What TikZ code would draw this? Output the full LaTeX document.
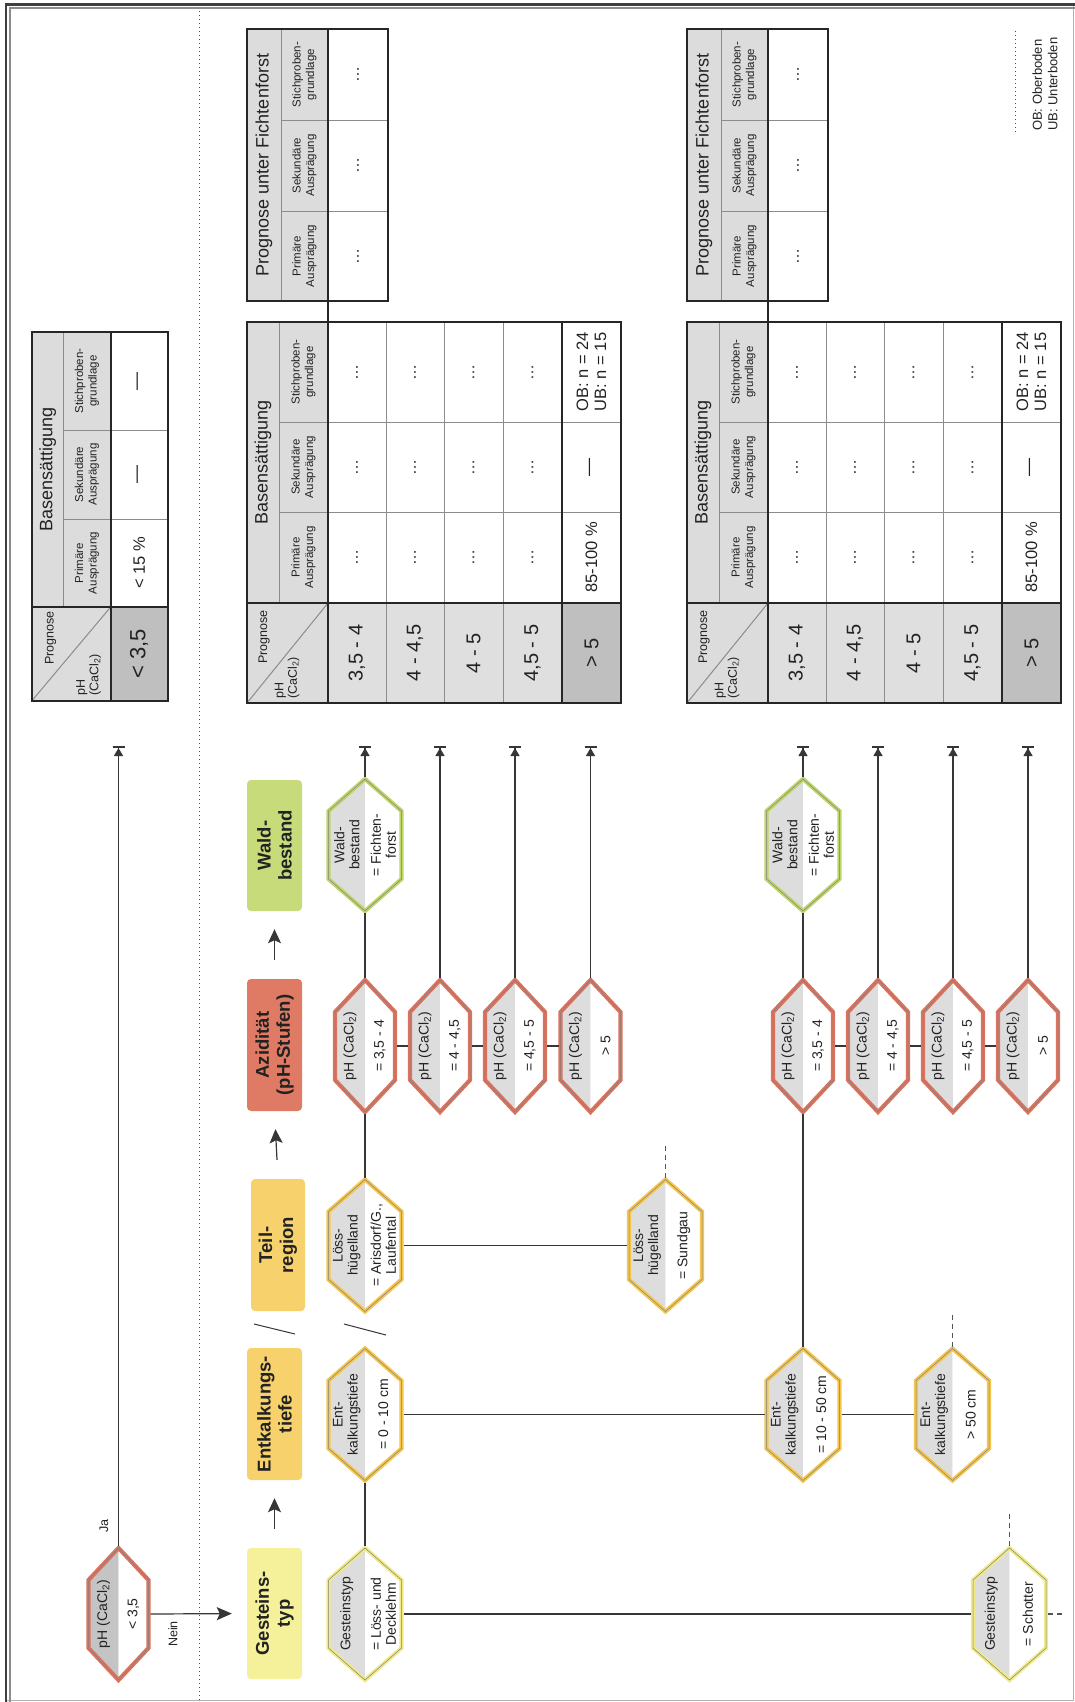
\documentclass[tikz,border=0pt]{standalone}
\usepackage{fontspec}
\setmainfont{Liberation Sans}
\usetikzlibrary{arrows.meta}
\definecolor{linec}{HTML}{363636}
\definecolor{hexgray}{HTML}{DDDDDD}
\definecolor{hexgraydk}{HTML}{C4C4C4}
\definecolor{ylight}{HTML}{F5F09A}
\definecolor{ylightb}{HTML}{F0EA8A}
\definecolor{gold}{HTML}{F6D16C}
\definecolor{goldb}{HTML}{F4C650}
\definecolor{redf}{HTML}{DF7A64}
\definecolor{redb}{HTML}{DC735E}
\definecolor{greenf}{HTML}{C7DB7A}
\definecolor{greenb}{HTML}{BDD56A}
\definecolor{hdrgray}{HTML}{DCDCDC}
\definecolor{phgray}{HTML}{DFDFDF}
\definecolor{phdark}{HTML}{BFBFBF}
\definecolor{txt}{HTML}{222222}

\tikzset{
  conn/.style={draw=linec, line width=1.2pt},
  tarrow/.style={conn, -{Triangle[length=8pt,width=9pt]Bar[width=12pt,line width=2pt]}},
  catarrow/.style={conn, -{Stealth[length=14pt,width=13pt,inset=3pt]}, shorten <=19pt, shorten >=18pt},
  neinarrow/.style={conn, -{Stealth[length=15pt,width=13pt,inset=3pt]}, shorten >=15pt},
  dashc/.style={draw=linec!85, line width=1.2pt, dash pattern=on 5pt off 4pt},
  hexbox/.style={inner sep=0pt, outer sep=0pt, minimum height=136pt},
  hexin/.style={draw=black!50, line width=0.5pt, line join=miter},
  hext/.style={rotate=90, font=\fontsize{14}{15}\selectfont, align=center, inner sep=0pt, text=txt},
  catbox/.style={rounded corners=4pt, inner sep=0pt, minimum width=55pt},
  catt/.style={rotate=90, font=\bfseries\fontsize{18.5}{21}\selectfont, align=center, inner sep=0pt, text=txt},
  lbl/.style={rotate=90, font=\fontsize{12.5}{14}\selectfont, inner sep=0pt, text=txt},
  thdr/.style={rotate=90, font=\fontsize{18}{20}\selectfont, inner sep=0pt, text=txt},
  tsub/.style={rotate=90, font=\fontsize{11.5}{13.5}\selectfont, align=center, inner sep=0pt, text=txt},
  tval/.style={rotate=90, font=\fontsize{20}{22}\selectfont, inner sep=0pt, text=txt},
  tdat/.style={rotate=90, font=\fontsize{16.5}{18}\selectfont, align=center, inner sep=0pt, text=txt},
  tdots/.style={rotate=90, font=\fontsize{16}{16}\selectfont, inner sep=0pt, text=txt},
  tsmall/.style={rotate=90, font=\fontsize{12.5}{13.5}\selectfont, align=left, inner sep=0pt, text=txt},
  tthin/.style={draw=black!45, line width=1pt},
  tthick/.style={draw=black!85, line width=2.2pt},
}

% hexagon: #1 name, #2 centre, #3 half width, #4 border colour, #5 gray colour, #6 left text, #7 right text
\newcommand{\hexa}[7]{%
  \node[hexbox, minimum width={2*#3+4}] (#1) at #2 {};
  \begin{scope}[shift={(#1.center)}]
    \fill[#5] (0,-66) -- (-#3,-34) -- (-#3,34) -- (0,66) -- cycle;
    \fill[white] (0,-66) -- (#3,-34) -- (#3,34) -- (0,66) -- cycle;
    \draw[#4, line width=4.2pt, line join=miter] (0,-66) -- (-#3,-34) -- (-#3,34) -- (0,66) -- (#3,34) -- (#3,-34) -- cycle;
    \draw[hexin] (0,-66) -- (-#3,-34) -- (-#3,34) -- (0,66) -- (#3,34) -- (#3,-34) -- cycle;
  \end{scope}
  \node[hext] (#1-l) at ([xshift={-0.5*#3}]#1.center) {#6};
  \node[hext] (#1-r) at ([xshift={0.5*#3}]#1.center) {#7};
}

% main table: #1 prefix, #2 x offset
\newcommand{\maintab}[2]{%
\begin{scope}[shift={(#2,0)}]
  \fill[hdrgray] (0,322) rectangle (81,703);
  \fill[phgray] (81,603) rectangle (315,703);
  \fill[phdark] (315,603) rectangle (374,703);
  \draw[tthin] (32,322) -- (32,603);
  \draw[tthin] (32,422) -- (374,422);
  \draw[tthin] (32,512) -- (374,512);
  \draw[tthin] (139,322) -- (139,703);
  \draw[tthin] (197,322) -- (197,703);
  \draw[tthin] (256,322) -- (256,703);
  \draw[tthin] (0,703) -- (81,603);
  \draw[tthick] (315,322) -- (315,703);
  \draw[tthick] (81,322) -- (81,703);
  \draw[tthick] (0,603) -- (374,603);
  \draw[tthick] (0,322) rectangle (374,703);
  \node[thdr] (#1-bs) at (16,462.5) {Basensättigung};
  \node[tsub] (#1-s1) at (56.5,557.5) {Primäre\\Ausprägung};
  \node[tsub] (#1-s2) at (56.5,467) {Sekundäre\\Ausprägung};
  \node[tsub] (#1-s3) at (56.5,372) {Stichproben-\\grundlage};
  \node[tsmall] (#1-pg) at (17,637) {Prognose};
  \node[tsmall, anchor=west] (#1-ph) at (40,699) {pH\\(CaCl\textsubscript{2})};
  \node[tval] (#1-v1) at (110,653) {3,5 - 4};
  \node[tval] (#1-v2) at (168,653) {4 - 4,5};
  \node[tval] (#1-v3) at (226.5,653) {4 - 5};
  \node[tval] (#1-v4) at (285.5,653) {4,5 - 5};
  \node[tval] (#1-v5) at (344.5,653) {> 5};
  \foreach \xx/\nn in {110/a,168/b,226.5/c,285.5/d}{
    \node[tdots] (#1-d\nn1) at (\xx,557.5) {…};
    \node[tdots] (#1-d\nn2) at (\xx,467) {…};
    \node[tdots] (#1-d\nn3) at (\xx,372) {…};
  }
  \node[tdat] (#1-e1) at (344.5,557.5) {85-100 \%};
  \node[tdat, font=\fontsize{18}{18}\selectfont] (#1-e2) at (344.5,467) {—};
  \node[tdat] (#1-e3) at (344.5,372) {OB: n = 24\\UB: n = 15};
\end{scope}}

% prognosis table: #1 prefix, #2 x offset
\newcommand{\progtab}[2]{%
\begin{scope}[shift={(#2,0)}]
  \fill[hdrgray] (0,29) rectangle (81,301);
  \draw[tthin] (34,29) -- (34,301);
  \draw[tthin] (34,120) -- (141,120);
  \draw[tthin] (34,211) -- (141,211);
  \draw[tthick] (81,29) -- (81,301);
  \draw[tthick] (0,29) rectangle (141,301);
  \coordinate (#1-a) at (81,301);
  \coordinate (#1-b) at (81,322);
  \draw[tthick] (#1-a) -- (#1-b);
  \node[thdr] (#1-t) at (17,165) {Prognose unter Fichtenforst};
  \node[tsub] (#1-s1) at (57.5,256) {Primäre\\Ausprägung};
  \node[tsub] (#1-s2) at (57.5,165.5) {Sekundäre\\Ausprägung};
  \node[tsub] (#1-s3) at (57.5,74.5) {Stichproben-\\grundlage};
  \node[tdots] (#1-d1) at (111,256) {…};
  \node[tdots] (#1-d2) at (111,165.5) {…};
  \node[tdots] (#1-d3) at (111,74.5) {…};
\end{scope}}

\begin{document}
\begin{tikzpicture}[x=1pt,y=-1pt]
\useasboundingbox (0,0) rectangle (1075,1702);
\fill[white] (0,0) rectangle (1075,1702);
% frame
\draw[black!30, line width=1pt] (6,1700.5) -- (1073.5,1700.5) -- (1073.5,5);
\draw[black!45, line width=2pt] (9.5,1702) -- (9.5,8.5) -- (1075,8.5);
\draw[black!75, line width=2.2pt] (6,1702) -- (6,4.5) -- (1075,4.5);
% dotted separator
\draw[black!70, line width=1pt, dash pattern=on 1pt off 3pt] (199,11) -- (199,1700);

% ---------- small table ----------
\begin{scope}[shift={(31.7,0)}]
  \fill[hdrgray] (0,332) rectangle (79,701);
  \fill[phdark] (79,607) rectangle (136,701);
  \draw[tthin] (31.6,332) -- (31.6,607);
  \draw[tthin] (31.6,430) -- (136,430);
  \draw[tthin] (31.6,519) -- (136,519);
  \draw[tthin] (0,701) -- (79,607);
  \draw[tthick] (79,332) -- (79,701);
  \draw[tthick] (0,607) -- (136,607);
  \draw[tthick] (0,332) rectangle (136,701);
  \node[thdr] (st-bs) at (16,469.5) {Basensättigung};
  \node[tsub] (st-s1) at (55.3,563) {Primäre\\Ausprägung};
  \node[tsub] (st-s2) at (55.3,474.5) {Sekundäre\\Ausprägung};
  \node[tsub] (st-s3) at (55.3,381) {Stichproben-\\grundlage};
  \node[tsmall] (st-pg) at (19,638) {Prognose};
  \node[tsmall, anchor=west] (st-ph) at (57,696) {pH\\(CaCl\textsubscript{2})};
  \node[tval, font=\fontsize{22}{24}\selectfont] (st-v) at (107.5,654) {< 3,5};
  \node[tdat] (st-e1) at (107.5,563) {< 15 \%};
  \node[tdat, font=\fontsize{18}{18}\selectfont] (st-e2) at (107.5,474.5) {—};
  \node[tdat, font=\fontsize{18}{18}\selectfont] (st-e3) at (107.5,381) {—};
\end{scope}

% ---------- main tables ----------
\progtab{pa}{247}
\maintab{ma}{247}
\progtab{pb}{687}
\maintab{mb}{687}

% legend
\draw[black!70, line width=1pt, dash pattern=on 1pt off 3pt] (1015,31) -- (1015,134);
\node[rotate=90, anchor=west, align=left, font=\fontsize{13}{15.5}\selectfont, inner sep=0pt, text=txt] (legend) at (1045,131) {OB: Oberboden\\UB: Unterboden};

% ---------- category boxes ----------
\node[catbox, fill=ylight, minimum height=131pt] (bGest) at (274.5,1613.5) {};
\node[catt] (bGest-t) at (bGest) {Gesteins-\\typ};
\node[catbox, fill=gold, minimum height=132pt] (bEnt) at (274.5,1414) {};
\node[catt] (bEnt-t) at (bEnt) {Entkalkungs-\\tiefe};
\node[catbox, fill=gold, minimum height=132pt, minimum width=54pt] (bTeil) at (278,1245) {};
\node[catt] (bTeil-t) at (bTeil) {Teil-\\region};
\node[catbox, fill=redf, minimum height=132pt] (bAzi) at (274.5,1045) {};
\node[catt] (bAzi-t) at (bAzi) {Azidität\\(pH-Stufen)};
\node[catbox, fill=greenf, minimum height=131pt] (bWald) at (274.5,845.5) {};
\node[catt] (bWald-t) at (bWald) {Wald-\\bestand};

\draw[catarrow] (bGest.north) -- (bEnt.south);
\draw[catarrow] (bTeil.north) -- (bAzi.south);
\draw[catarrow] (bAzi.north) -- (bWald.south);
% slash marks
\draw[linec, line width=1pt] (254,1324) -- (295,1334);
\draw[linec, line width=1pt] (344,1324) -- (386,1335);

% ---------- hexagons ----------
\hexa{ja}{(118.5,1614)}{30}{redb}{hexgraydk}{pH (CaCl\textsubscript{2})}{< 3,5}

\hexa{gst1}{(365,1614)}{36.5}{ylightb}{hexgray}{Gesteinstyp}{= Löss- und\\Decklehm}
\hexa{ent1}{(365,1414.5)}{36.5}{goldb}{hexgray}{Ent-\\kalkungstiefe}{= 0 - 10 cm}
\hexa{tr1}{(365,1245.5)}{36.5}{goldb}{hexgray}{Löss-\\hügelland}{= Arisdorf/G.,\\Laufental}
\hexa{pha}{(365,1046)}{30}{redb}{hexgray}{pH (CaCl\textsubscript{2})}{= 3,5 - 4}
\hexa{phb}{(440,1046)}{30}{redb}{hexgray}{pH (CaCl\textsubscript{2})}{= 4 - 4,5}
\hexa{phc}{(515,1046)}{30}{redb}{hexgray}{pH (CaCl\textsubscript{2})}{= 4,5 - 5}
\hexa{phd}{(590.5,1046)}{30}{redb}{hexgray}{pH (CaCl\textsubscript{2})}{> 5}
\hexa{wb1}{(365,845)}{36.5}{greenb}{hexgray}{Wald-\\bestand}{= Fichten-\\forst}

\hexa{tr2}{(665.5,1245.5)}{36.5}{goldb}{hexgray}{Löss-\\hügelland}{= Sundgau}
\hexa{ent2}{(803,1414.5)}{36.5}{goldb}{hexgray}{Ent-\\kalkungstiefe}{= 10 - 50 cm}
\hexa{ent3}{(952.5,1414.5)}{36.5}{goldb}{hexgray}{Ent-\\kalkungstiefe}{> 50 cm}
\hexa{gst2}{(1009.5,1614)}{36.5}{ylightb}{hexgray}{Gesteinstyp}{= Schotter}
\hexa{pqa}{(803,1046)}{30}{redb}{hexgray}{pH (CaCl\textsubscript{2})}{= 3,5 - 4}
\hexa{pqb}{(878,1046)}{30}{redb}{hexgray}{pH (CaCl\textsubscript{2})}{= 4 - 4,5}
\hexa{pqc}{(953,1046)}{30}{redb}{hexgray}{pH (CaCl\textsubscript{2})}{= 4,5 - 5}
\hexa{pqd}{(1028,1046)}{30}{redb}{hexgray}{pH (CaCl\textsubscript{2})}{> 5}
\hexa{wb2}{(803,845)}{36.5}{greenb}{hexgray}{Wald-\\bestand}{= Fichten-\\forst}

% ---------- end coordinates ----------
\coordinate (tja) at (118.5,746);
\coordinate (t1a) at (365,746);
\coordinate (t1b) at (440,746);
\coordinate (t1c) at (515,746);
\coordinate (t1d) at (590.5,746);
\coordinate (t2a) at (803,746);
\coordinate (t2b) at (878,746);
\coordinate (t2c) at (953,746);
\coordinate (t2d) at (1028,746);
\coordinate (dgst2a) at (1009.5,1513);
\coordinate (dgst2b) at (1064,1614);
\coordinate (dent3) at (952.5,1313);
\coordinate (dtr2) at (665.5,1145);

% ---------- connectors ----------
\draw[tarrow] (ja.north) -- (tja);
\draw[neinarrow] (ja.east) -- (bGest.west);
\node[lbl] (lja) at (104,1526) {Ja};
\node[lbl] (lnein) at (173,1634) {Nein};

\draw[conn] (gst1.north) -- (ent1.south);
\draw[conn] (gst1.east) -- (gst2.west);
\draw[dashc] (gst2.north) -- (dgst2a);
\draw[dashc] (gst2.east) -- (dgst2b);
\draw[conn] (ent1.east) -- (ent2.west);
\draw[conn] (ent2.east) -- (ent3.west);
\draw[dashc] (ent3.north) -- (dent3);
\draw[conn] (ent2.north) -- (pqa.south);
\draw[conn] (tr1.north) -- (pha.south);
\draw[conn] (tr1.east) -- (tr2.west);
\draw[dashc] (tr2.north) -- (dtr2);

\draw[conn] (pha.east) -- (phb.west);
\draw[conn] (phb.east) -- (phc.west);
\draw[conn] (phc.east) -- (phd.west);
\draw[conn] (pha.north) -- (wb1.south);
\draw[tarrow] (wb1.north) -- (t1a);
\draw[tarrow] (phb.north) -- (t1b);
\draw[tarrow] (phc.north) -- (t1c);
\draw[tarrow] (phd.north) -- (t1d);

\draw[conn] (pqa.east) -- (pqb.west);
\draw[conn] (pqb.east) -- (pqc.west);
\draw[conn] (pqc.east) -- (pqd.west);
\draw[conn] (pqa.north) -- (wb2.south);
\draw[tarrow] (wb2.north) -- (t2a);
\draw[tarrow] (pqb.north) -- (t2b);
\draw[tarrow] (pqc.north) -- (t2c);
\draw[tarrow] (pqd.north) -- (t2d);
\end{tikzpicture}
\end{document}
